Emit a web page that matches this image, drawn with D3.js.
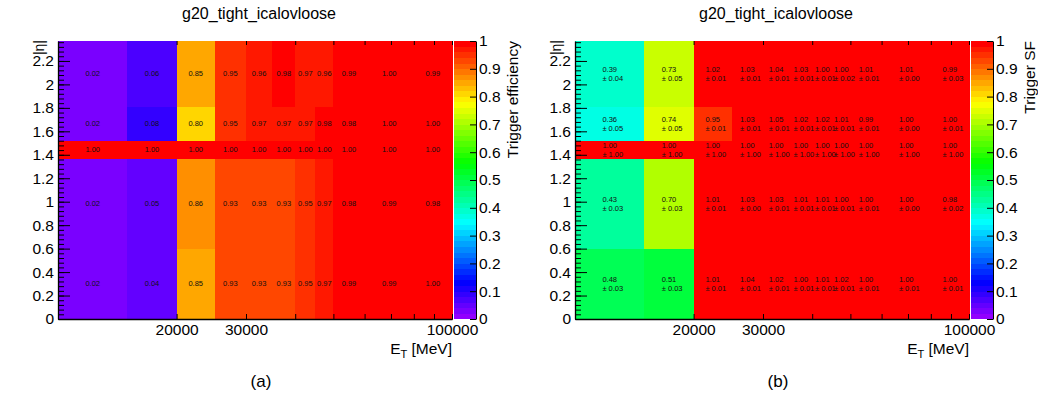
<!DOCTYPE html>
<html>
<head>
<meta charset="utf-8">
<script src="https://cdn.jsdelivr.net/npm/d3@7"></script>
<style>
  body { margin: 0; background: #fff; }
  svg text { font-family: "Liberation Sans", Arial, Helvetica, sans-serif; }
  .axis path, .axis line { stroke: #000; }
  .cells rect, .cbar rect { shape-rendering: crispEdges; }
</style>
</head>
<body>
<svg id="fig" width="1038" height="397"></svg>
<script>
// E_T bin edges [MeV] and |eta| bin edges
const etEdges = [10000, 15000, 20000, 25000, 30000, 35000, 40000, 45000, 50000, 60000, 80000, 100000];
const etaEdges = [0, 0.6, 1.37, 1.52, 1.81, 2.37];

// Trigger efficiency, one row per |eta| bin (low to high)
const effRows = [
  [0.02, 0.04, 0.85, 0.93, 0.93, 0.93, 0.95, 0.97, 0.99, 0.99, 1.00],
  [0.02, 0.05, 0.86, 0.93, 0.93, 0.93, 0.95, 0.97, 0.98, 0.99, 0.98],
  [1.00, 1.00, 1.00, 1.00, 1.00, 1.00, 1.00, 1.00, 1.00, 1.00, 1.00],
  [0.02, 0.08, 0.80, 0.95, 0.97, 0.97, 0.97, 0.98, 0.98, 1.00, 1.00],
  [0.02, 0.06, 0.85, 0.95, 0.96, 0.98, 0.97, 0.96, 0.99, 1.00, 0.99]
];

// Trigger scale factors and their uncertainties
const sfRows = [
  [0.48, 0.51, 1.01, 1.04, 1.02, 1.00, 1.01, 1.02, 1.00, 1.00, 1.00],
  [0.43, 0.70, 1.01, 1.03, 1.03, 1.01, 1.01, 1.00, 1.00, 1.00, 0.98],
  [1.00, 1.00, 1.00, 1.00, 1.00, 1.00, 1.00, 1.00, 1.00, 1.00, 1.00],
  [0.36, 0.74, 0.95, 1.03, 1.05, 1.02, 1.02, 1.01, 0.99, 1.00, 1.00],
  [0.39, 0.73, 1.02, 1.03, 1.04, 1.03, 1.00, 1.00, 1.01, 1.01, 0.99]
];
const sfErrRows = [
  [0.03, 0.03, 0.01, 0.01, 0.01, 0.01, 0.01, 0.01, 0.01, 0.01, 0.01],
  [0.03, 0.03, 0.01, 0.00, 0.01, 0.01, 0.01, 0.01, 0.01, 0.00, 0.02],
  [1.00, 1.00, 1.00, 1.00, 1.00, 1.00, 1.00, 1.00, 1.00, 1.00, 1.00],
  [0.05, 0.05, 0.01, 0.01, 0.01, 0.01, 0.01, 0.01, 0.01, 0.00, 0.01],
  [0.04, 0.05, 0.01, 0.01, 0.01, 0.01, 0.01, 0.02, 0.01, 0.00, 0.03]
];

// Axis ticks
const etTicks = [20000, 30000, 40000, 50000, 60000, 70000, 80000, 90000, 100000];
const etTickLabels = [20000, 30000, 100000];
const etaMajorTicks = [0, 0.2, 0.4, 0.6, 0.8, 1.0, 1.2, 1.4, 1.6, 1.8, 2.0, 2.2];
const zTicks = [0, 0.1, 0.2, 0.3, 0.4, 0.5, 0.6, 0.7, 0.8, 0.9, 1.0];

const histTitle = "g20_tight_icalovloose";
const nColors = 50;

// 50-step violet→red palette (HLS hue scan), last step pure red
function paletteColor(i) {
  if (i >= nColors - 1) return "rgb(255,0,0)";
  const hue = 280 - (i + 1) * (280 / nColors);
  return d3.hsl(hue, 1, 0.5).formatRgb();
}
function zColor(v) {
  let i = Math.floor(v * nColors + 1e-9);
  i = Math.max(0, Math.min(nColors - 1, i));
  return paletteColor(i);
}

const svg = d3.select("#fig");
const plotTop = 41, plotBottom = 319;
const fmtTick = d => String(+d.toFixed(1));

function drawPanel(cfg) {
  const g = svg.append("g");
  const x = d3.scaleLog().domain([10000, 100000]).range([cfg.x0, cfg.x0 + 394]);
  const y = d3.scaleLinear().domain([0, 2.37]).range([plotBottom, plotTop]);
  const [xl, xr] = x.range();

  // cells
  const cells = [];
  cfg.values.forEach((row, j) => row.forEach((v, i) => cells.push({i, j, v, e: cfg.errors ? cfg.errors[j][i] : null})));
  g.append("g").attr("class", "cells").selectAll("rect").data(cells).join("rect")
    .attr("x", d => x(etEdges[d.i]))
    .attr("width", d => x(etEdges[d.i + 1]) - x(etEdges[d.i]) + 0.5)
    .attr("y", d => y(etaEdges[d.j + 1]))
    .attr("height", d => y(etaEdges[d.j]) - y(etaEdges[d.j + 1]) + 0.5)
    .attr("fill", d => zColor(d.v));

  // cell labels
  const lab = g.append("g").attr("fill", "#111");
  cells.forEach(d => {
    const cx = (x(etEdges[d.i]) + x(etEdges[d.i + 1])) / 2;
    const cy = (y(etaEdges[d.j]) + y(etaEdges[d.j + 1])) / 2;
    if (d.e === null) {
      lab.append("text").attr("x", cx).attr("y", cy).attr("dy", "0.35em")
        .attr("text-anchor", "middle").attr("font-size", 7.5).text(d.v.toFixed(2));
    } else {
      const t1 = lab.append("text").attr("y", cy - 1.5).attr("font-size", 7.5).text(d.v.toFixed(2));
      const w = t1.node().getComputedTextLength();
      t1.attr("x", cx - w / 2);
      lab.append("text").attr("x", cx - w / 2).attr("y", cy + 7.5).attr("font-size", 7.5)
        .text("\u00b1 " + d.e.toFixed(2));
    }
  });

  // x axis (bottom, labelled) and top ticks
  const xAxis = d3.axisBottom(x).tickValues(etTicks).tickSizeInner(-5).tickSizeOuter(0).tickPadding(5)
    .tickFormat(d => etTickLabels.includes(d) ? String(d) : "");
  const gx = g.append("g").attr("class", "axis").attr("transform", `translate(0,${plotBottom})`).call(xAxis);
  gx.selectAll("text").attr("font-size", 15.5).attr("fill", "#000").attr("font-family", null);
  gx.select(".domain").attr("stroke-width", 1.3);
  gx.selectAll(".tick line").attr("stroke-width", 1);
  const gxt = g.append("g").attr("class", "axis").attr("transform", `translate(0,${plotTop})`)
    .call(d3.axisTop(x).tickValues(etTicks).tickSizeInner(-4).tickSizeOuter(0).tickFormat(""));
  gxt.select(".domain").remove();

  // y axis: minor ticks then labelled major ticks
  const minor = d3.range(0, 2.37, 0.04);
  const gym = g.append("g").attr("class", "axis").attr("transform", `translate(${xl},0)`)
    .call(d3.axisLeft(y).tickValues(minor).tickSizeInner(-6).tickSizeOuter(0).tickFormat(""));
  gym.select(".domain").remove();
  const gy = g.append("g").attr("class", "axis").attr("transform", `translate(${xl},0)`)
    .call(d3.axisLeft(y).tickValues(etaMajorTicks).tickSizeInner(-12).tickSizeOuter(0).tickPadding(4).tickFormat(fmtTick));
  gy.selectAll("text").attr("font-size", 15.5).attr("fill", "#000").attr("font-family", null);
  gy.select(".domain").attr("stroke-width", 1.3);

  // colour bar
  const z = d3.scaleLinear().domain([0, 1]).range([plotBottom, plotTop]);
  const cbL = xr + 1.5, cbR = xr + 24;
  g.append("g").attr("class", "cbar").selectAll("rect").data(d3.range(nColors)).join("rect")
    .attr("x", cbL).attr("width", cbR - cbL)
    .attr("y", i => z((i + 1) / nColors)).attr("height", i => z(i / nColors) - z((i + 1) / nColors) + 0.3)
    .attr("fill", paletteColor);
  const gz = g.append("g").attr("class", "axis").attr("transform", `translate(${cbR},0)`)
    .call(d3.axisRight(z).tickValues(zTicks).tickSizeInner(-6).tickSizeOuter(0).tickPadding(3).tickFormat(fmtTick));
  gz.selectAll("text").attr("font-size", 15.5).attr("fill", "#000").attr("font-family", null);

  // titles
  g.append("text").attr("x", (xl + xr) / 2 + 4).attr("y", 19).attr("text-anchor", "middle")
    .attr("font-size", 16).text(histTitle);
  const xt = g.append("text").attr("x", xr).attr("y", 354).attr("text-anchor", "end").attr("font-size", 15.5);
  xt.append("tspan").text("E");
  xt.append("tspan").attr("font-size", 11).attr("dy", 4).text("T");
  xt.append("tspan").attr("dy", -4).text(" [MeV]");
  g.append("text").attr("transform", `translate(${xl - 14},${plotTop - 1}) rotate(-90)`).attr("text-anchor", "end")
    .attr("font-size", 14).text("|\u03b7|");
  g.append("text").attr("transform", `translate(${cbR + 42},${plotTop}) rotate(-90)`).attr("text-anchor", "end")
    .attr("font-size", 15.5).text(cfg.zTitle);
  g.append("text").attr("x", (xl + xr) / 2 + 6).attr("y", 387).attr("text-anchor", "middle")
    .attr("font-family", "'Liberation Serif', 'DejaVu Serif', serif").attr("font-size", 17).text(cfg.caption);
}

drawPanel({x0: 58, values: effRows, errors: null, zTitle: "Trigger efficiency", caption: "(a)"});
drawPanel({x0: 575, values: sfRows, errors: sfErrRows, zTitle: "Trigger SF", caption: "(b)"});
</script>
</body>
</html>
